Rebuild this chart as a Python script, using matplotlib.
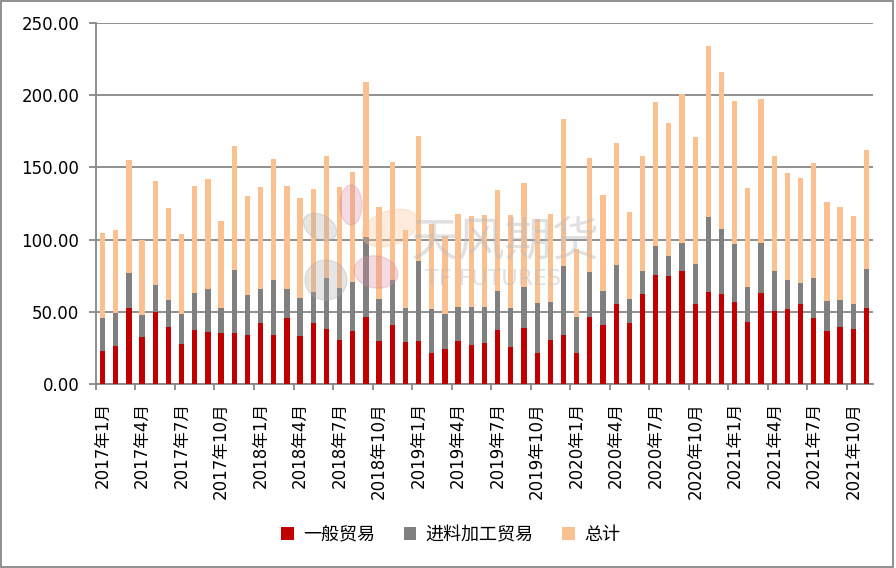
import numpy as np
import matplotlib
matplotlib.use('Agg')
import matplotlib.pyplot as plt
from matplotlib.patches import Rectangle, Ellipse

plt.rcParams['font.family'] = ['DejaVu Sans', 'Noto Sans CJK SC']

# monthly values, 2017-01 .. 2021-11
general = [22.8, 26.3, 52.8, 32.5, 49.8, 39.4, 27.6, 37.3, 35.9, 35.3,
           35.3, 33.9, 42.2, 33.9, 45.6, 33.2, 42.2, 38.0, 30.4, 36.6,
           46.3, 29.7, 40.8, 29.0, 29.7, 21.4, 24.2, 29.7, 27.0, 28.3,
           37.3, 25.6, 38.7, 21.4, 30.4, 33.9, 21.4, 46.3, 40.8, 55.3,
           42.2, 62.2, 75.3, 74.7, 78.1, 55.3, 63.6, 62.2, 56.7, 42.9,
           62.9, 50.5, 51.8, 55.3, 45.6, 36.6, 39.4, 38.0, 52.5]
processing = [45.9, 49.1, 76.7, 47.7, 68.4, 58.1, 48.4, 62.9, 65.7, 52.5,
              79.0, 61.5, 65.7, 71.9, 65.7, 59.4, 63.6, 73.3, 66.4, 70.5,
              101.6, 58.8, 71.9, 52.5, 85.0, 51.8, 48.4, 53.2, 53.2, 53.2,
              64.3, 52.5, 67.1, 56.0, 56.7, 81.6, 46.3, 77.4, 64.3, 82.3,
              58.8, 78.1, 95.4, 88.5, 97.5, 82.9, 115.4, 107.1, 96.8, 67.1,
              97.5, 78.1, 71.9, 69.8, 73.3, 57.4, 58.1, 55.3, 79.5]
total = [104.6, 106.5, 154.8, 99.5, 140.3, 121.7, 103.7, 136.9, 141.7, 112.7,
         164.5, 130.0, 136.2, 155.5, 136.9, 128.6, 134.8, 157.6, 136.2, 146.5,
         208.8, 122.4, 153.5, 106.5, 171.4, 110.6, 102.3, 117.5, 116.1, 116.8,
         134.1, 116.8, 138.9, 114.1, 117.5, 183.2, 93.3, 156.2, 130.6, 166.6,
         118.9, 157.6, 194.9, 180.4, 200.5, 170.7, 233.6, 215.7, 195.6, 135.5,
         197.0, 157.6, 145.9, 142.4, 152.8, 125.8, 122.4, 116.1, 161.8]
months = [f'{y}年{m}月' for y in range(2017, 2022) for m in range(1, 13)][:len(total)]

fig = plt.figure(figsize=(8.96, 5.68), dpi=100)
ax = fig.add_axes([0.1071, 0.3239, 0.8672, 0.6361])

x = np.arange(len(total))
w = 0.4
ax.bar(x, total, w, color='#FAC090', label='总计', zorder=2)
ax.bar(x, processing, w, color='#808080', label='进料加工贸易', zorder=3)
ax.bar(x, general, w, color='#C00000', label='一般贸易', zorder=4)

ax.set_xlim(-0.5, len(total) - 0.5)
ax.set_ylim(0, 250)
ax.set_yticks(np.arange(0, 251, 50))
ax.set_yticklabels([f'{v:.2f}' for v in np.arange(0, 251, 50)])
ax.grid(axis='y', color='#878787', linewidth=1.3, zorder=0)
ax.set_axisbelow(True)

ax.set_xticks(np.arange(-0.5, len(total), 3))
ax.set_xticklabels([])
ax.set_xticks(np.arange(0, len(total), 3), minor=True)
ax.set_xticklabels(months[::3], minor=True, rotation=90, fontsize=12)
ax.tick_params(axis='x', which='major', length=4, width=1.3, color='#878787', direction='out')
ax.tick_params(axis='x', which='minor', length=0, pad=13)
ax.tick_params(axis='y', length=5, width=1.3, color='#878787', labelsize=12, pad=7)

for s in ['top', 'right']:
    ax.spines[s].set_visible(False)
for s in ['left', 'bottom']:
    ax.spines[s].set_color('#878787')
    ax.spines[s].set_linewidth(1.3)

# watermark
fig.text(505 / 896, 1 - 243 / 568, '天风期货', fontsize=34, color='#bbbbbb', alpha=0.45,
         ha='center', va='center', zorder=10)
fig.text(493 / 896, 1 - 279 / 568, 'TF FUTURES', fontsize=16, color='#bbbbbb', alpha=0.45,
         ha='center', va='center', zorder=10)
petals = [(320, 227, 36, 24, -30, '#aaaaaa'), (351, 205, 22, 40, 0, '#d98aa0'),
          (390, 228, 58, 34, 20, '#fac090'), (326, 280, 42, 40, 0, '#aaaaaa'),
          (376, 272, 44, 32, -10, '#d98aa0')]
for px, py, pw, ph, ang, c in petals:
    fig.patches.append(Ellipse((px, 568 - py), pw, ph, angle=ang, color=c, alpha=0.3,
                               transform=None, zorder=10))

handles, labels = ax.get_legend_handles_labels()
fig.legend(handles[::-1], labels[::-1], loc='center', bbox_to_anchor=(0.503, 1 - 535 / 568),
           ncol=3, frameon=False, fontsize=13, handlelength=0.7, handleheight=0.7,
           handletextpad=0.5, columnspacing=1.6)

fig.patches.append(Rectangle((0.001, 0.002), 0.996, 0.996, transform=fig.transFigure,
                             fill=False, edgecolor='#878787', linewidth=1.3))

fig.savefig('out.png', dpi=100)
